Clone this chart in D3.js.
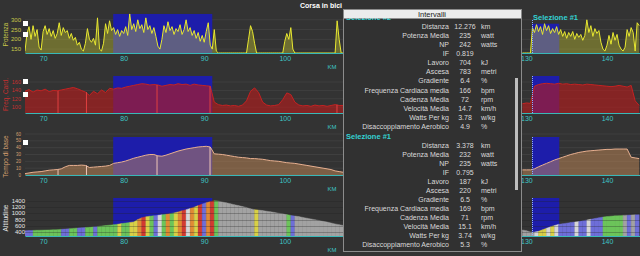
<!DOCTYPE html>
<html>
<head>
<meta charset="utf-8">
<style>
  body { margin:0; background:#333; overflow:hidden; }
  text { font-family: "Liberation Sans", Arial, sans-serif; }
</style>
</head>
<body>
<script src="https://cdn.jsdelivr.net/npm/d3@7/dist/d3.min.js"></script>
<script>

// ---- DATA ----
// 110 and 120 sit under the intervals popup, so they are not drawn
const kmTicks = [70, 80, 90, 100, 130, 140];

// power (watt), sampled every 0.25 km
const powerLeftStart = 67.75, powerRightStart = 129.5, powerStep = 0.25;
const powerLeft = [
  140,230,265,200,270,215,250,160,145,240,
  270,225,255,215,245,205,230,285,220,260,
  235,245,205,230,195,210,170,185,150,140,
  180,255,200,185,205,170,310,150,140,180,
  280,230,295,245,260,225,250,215,245,230,
  265,220,330,250,280,240,300,255,275,235,
  310,250,270,230,260,215,165,150,200,270,
  235,290,245,265,225,255,240,275,225,250,
  300,240,260,220,245,205,235,190,220,185,
  240,285,170,150,250,140,
  0,0,0,0,0,0,0,0,0,0,0,0,0,0,0,
  200,270,240,180,
  0,0,0,0,0,0,0,0,0,0,0,0,0,0,
  190,230,200,260,150,
  0,0,0,0,0,0,0,0,0,0,0,0,0,0,0,0,0,0,0,0,0,
  295,200,0,0
];
const powerRight = [
  0,0,0,0,0,260,235,275,240,265,
  225,280,245,270,230,255,235,265,225,250,
  215,240,205,235,215,240,200,230,210,225,
  195,220,300,235,270,215,255,230,245,185,
  150,140,170,220,175,235,195,225,170,150,
  140,160,250,215,260,235,140,285,270
];

// heart rate, tempo di base, altitude, gradient: every 0.5 km
const slowLeftStart = 67.75, slowRightStart = 129.5, slowStep = 0.5;
const hrLeft = [
  138,142,136,141,139,143,137,140,139,141,
  143,145,147,144,140,136,128,138,132,141,
  135,145,143,146,145,148,150,152,154,156,
  155,153,154,153,150,152,154,153,156,154,
  155,152,155,153,152,151,150,112,106,104,
  105,103,104,102,105,115,138,146,135,112,
  105,103,104,106,118,134,130,112,105,103,
  104,102,105,103,104,102,104,106,104,104
];
const hrRight = [
  108,110,109,150,154,156,157,156,155,157,
  155,156,154,155,154,153,155,154,153,152,
  151,150,149,150,152,150,148,152,115,104
];
const tempoLeft = [
  2,3,4,4.5,5,6,7,7.5,8,9,
  12,14,14,14,14.5,14,11,11.5,12,12.5,
  13,14,17,18,19,20.5,22.5,24.5,26,27.5,
  29,30,30,28,27.5,29,31,33,35,36.5,
  38,39,40,41,41.5,42,41,31,30.5,30,
  29,28,27,26,25.5,25,24,24,23.5,23,
  22,21,20.5,20,19,18,17.5,17,16,15,
  14,13,12,11,10,9,8,6,5,4
];
const tempoRight = [
  7.5,7.5,7.5,9,12,14.5,17,19.5,22,24,
  26,28,30,31.5,33,34,35,35.5,36,36.5,
  37,37.5,37.5,38,38,38,38,26,25,24
];
const altLeft = [
  440,445,450,455,458,462,466,470,475,485,
  495,505,515,525,535,545,555,565,575,590,
  605,620,635,650,670,690,705,725,800,860,
  890,910,925,940,955,970,990,1015,1045,1085,
  1120,1160,1200,1250,1300,1345,1380,1405,1395,1370,
  1340,1310,1280,1250,1220,1190,1150,1120,1105,1090,
  1070,1050,1030,1005,985,960,935,915,895,870,
  845,820,795,770,745,720,690,660,635,610
];
const altRight = [
  465,440,400,395,420,470,520,570,610,645,
  665,685,705,720,735,760,785,810,835,860,
  880,895,910,920,926,935,940,948,952,958
];
const gradLeft = [
  2,2,4,4,4,4,4,4,4,2,
  2,4,4,2,2,4,4,2,4,4,
  4,4,4,5,4,4,6,6,8,10,
  6,4,2,0,4,8,4,6,8,10,
  0,8,6,10,2,8,10,4,-2,-2,
  -2,-2,-2,-2,-2,-2,-2,6,-2,-2,
  -2,-2,-2,-2,-2,4,2,-2,-2,-2,
  -2,-2,-2,-2,-2,-2,-2,-2,-2,-2
];
const gradRight = [
  -2,-2,-2,0,6,6,0,6,0,2,
  2,2,2,0,2,2,0,2,2,2,
  4,4,4,4,4,-2,2,-2,2,-2
];

// recording dropouts (km)
const hrDrops = [71.85, 75.38, 84.14, 90.72, 106.48];
const tempoDrops = [71.85, 75.38, 84.14, 90.72];

// selections (km)
const selections = [[78.7, 91.0], [130.7, 134.08]];
const selectionName = "Selezione #1";

// y ticks
const powerTicks = [150, 200, 250, 300];
const hrTicks = [100, 120, 140, 160];
const tempoTicks = [0, 10, 20, 30, 40, 50, 60];
const altTicks = [400, 600, 800, 1000, 1200, 1400];

// interval popup
const statLabels = ["Distanza","Potenza Media","NP","IF","Lavoro","Ascesa","Gradiente",
  "Frequenza Cardiaca media","Cadenza Media","Velocità Media","Watts Per kg","Disaccoppiamento Aerobico"];
const statUnits = ["km","watt","watts","","kJ","metri","%","bpm","rpm","km/h","w/kg","%"];
const statsAll = ["12.276","235","242","0.819","704","783","6.4","166","72","14.7","3.78","4.9"];
const statsSel1 = ["3.378","232","235","0.795","187","220","6.5","169","71","15.1","3.74","5.3"];

// ---- HELPERS ----
function series(start, step, vals) {
  return vals.map((v, i) => ({ km: start + i * step, v: v }));
}

const W = 640, H = 256;
const svg = d3.select("body").append("svg").attr("width", W).attr("height", H);
svg.append("rect").attr("width", W).attr("height", H).attr("fill", "#333");

const x = d3.scaleLinear().domain([67.75, 144.1]).range([25, 640]);

svg.append("text").attr("x", 321).attr("y", 8).attr("text-anchor", "middle")
  .attr("font-size", 7).attr("font-weight", "bold").attr("fill", "#fff").text("Corsa in bici");

const panels = [
  { id: "power", top: 12, bottom: 53, domain: [130, 340], ticks: powerTicks, title: "Potenza",
    labelColor: "#c8c84a", tickFont: 6, line: "#e8e830", fill: "#e8e830", fillOp: 0.32,
    data: [series(powerLeftStart, powerStep, powerLeft), series(powerRightStart, powerStep, powerRight)],
    squares: [21, 32] },
  { id: "hr", top: 72, bottom: 113, domain: [86, 184], ticks: hrTicks, title: "Freq. Card.",
    labelColor: "#c83030", tickFont: 5.5, line: "#c42222", fill: "#b81c1c", fillOp: 0.62, selTop: 76,
    data: [series(slowLeftStart, slowStep, hrLeft), series(slowRightStart, slowStep, hrRight)],
    drops: hrDrops, dropColor: "#e04040", squares: [79, 92] },
  { id: "tempo", top: 134, bottom: 175, domain: [0, 60], ticks: tempoTicks, title: "Tempo di base",
    labelColor: "#d8a070", tickFont: 4.5, line: "#e8b090", fill: "#c48a58", fillOp: 0.5, selTop: 137,
    data: [series(slowLeftStart, slowStep, tempoLeft), series(slowRightStart, slowStep, tempoRight)],
    drops: tempoDrops, dropColor: "#f0c8b8", squares: [140] },
  { id: "alt", top: 196, bottom: 236, domain: [270, 1560], ticks: altTicks, title: "Altitudine",
    labelColor: "#e8e8e8", tickFont: 6, selTop: 198,
    data: [series(slowLeftStart, slowStep, altLeft), series(slowRightStart, slowStep, altRight)],
    grads: [gradLeft, gradRight], squares: [] }
];

const gradColor = d3.scaleThreshold()
  .domain([-0.5, 0.5, 3, 5, 7, 9])
  .range(["#a2a2a2", "#d6d6d6", "#6e6ed8", "#6cc45a", "#d8d046", "#e08a34", "#d23a30"]);

panels.forEach(p => {
  const y = d3.scaleLinear().domain(p.domain).range([p.bottom, p.top]).clamp(true);
  const g = svg.append("g");

  svg.append("clipPath").attr("id", "clip-" + p.id)
    .append("rect").attr("x", 25).attr("y", p.top - 4).attr("width", 615).attr("height", p.bottom - p.top + 4);
  const plot = g.append("g").attr("clip-path", "url(#clip-" + p.id + ")");

  // grid behind
  if (p.id !== "alt") {
    plot.selectAll("line.grid").data(p.ticks).enter().append("line")
      .attr("x1", 25).attr("x2", 640).attr("y1", d => y(d)).attr("y2", d => y(d))
      .attr("stroke", "#3f3f3f").attr("stroke-width", 1);
  }

  // selections
  selections.forEach((s, si) => {
    let top = p.selTop;
    if (p.id === "power") {
      const pts = p.data[si].filter(d => d.km >= s[0] && d.km <= s[1]);
      top = y(d3.max(pts, d => d.v));
    }
    plot.append("rect").attr("x", x(s[0])).attr("y", top)
      .attr("width", x(s[1]) - x(s[0])).attr("height", p.bottom - top)
      .attr("fill", "#1d1daa");
  });

  if (p.id === "alt") {
    p.data.forEach((pts, k) => {
      const grads = p.grads[k];
      for (let i = 0; i < pts.length - 1; i++) {
        const seg = [pts[i], pts[i + 1]];
        plot.append("path").datum(seg)
          .attr("d", d3.area().x(d => x(d.km)).y0(p.bottom).y1(d => y(d.v)))
          .attr("fill", gradColor(grads[i])).attr("stroke", gradColor(grads[i])).attr("stroke-width", 0.4);
      }
    });
    // grid over the profile
    plot.selectAll("line.grid").data(p.ticks).enter().append("line")
      .attr("x1", 25).attr("x2", 640).attr("y1", d => Math.round(y(d)) + 0.5).attr("y2", d => Math.round(y(d)) + 0.5)
      .attr("stroke", "#222").attr("stroke-opacity", 0.3);
  } else {
    const area = d3.area().x(d => x(d.km)).y0(p.bottom).y1(d => y(d.v));
    const line = d3.line().x(d => x(d.km)).y(d => y(d.v));
    p.data.forEach(pts => {
      plot.append("path").datum(pts).attr("d", area)
        .attr("fill", p.fill).attr("fill-opacity", p.fillOp);
      plot.append("path").datum(pts).attr("d", line)
        .attr("fill", "none").attr("stroke", p.line).attr("stroke-width", 1);
    });
    if (p.drops) {
      plot.selectAll("line.drop").data(p.drops).enter().append("line")
        .attr("x1", d => x(d)).attr("x2", d => x(d))
        .attr("y1", d => {
          const pts = p.data[0];
          const j = Math.min(pts.length - 1, Math.round((d - pts[0].km) / slowStep));
          return y(pts[j].v);
        })
        .attr("y2", p.bottom).attr("stroke", p.dropColor).attr("stroke-width", 1);
    }
  }

  // dotted marker at start of named selection
  const sx = Math.round(x(selections[1][0])) + 0.5;
  plot.append("line").attr("x1", sx).attr("x2", sx)
    .attr("y1", p.id === "power" ? 20 : p.selTop).attr("y2", p.bottom)
    .attr("stroke", "#8fb0ff").attr("stroke-dasharray", "1,1");

  // x axis
  const ax = g.append("g").attr("transform", "translate(0," + p.bottom + ")")
    .call(d3.axisBottom(x).tickValues(kmTicks).tickSize(0).tickPadding(3));
  ax.select(".domain").attr("stroke", "#38b8b8").attr("stroke-width", 1.2);
  ax.selectAll("text").attr("fill", "#3ec6c6").attr("font-size", 7)
    .attr("font-family", "Liberation Sans, Arial, sans-serif");
  g.append("text").attr("x", 332).attr("y", p.bottom + 16).attr("text-anchor", "middle")
    .attr("font-size", 6).attr("fill", "#3ec6c6").text("KM");

  // y labels
  const lx = p.id === "alt" ? 25 : 21;
  g.selectAll("text.ytick").data(p.ticks).enter().append("text")
    .attr("x", lx).attr("y", d => y(d)).attr("dy", "0.35em").attr("text-anchor", "end")
    .attr("font-size", p.tickFont).attr("fill", p.labelColor).text(d => d);
  g.append("text")
    .attr("transform", "translate(8," + ((p.top + p.bottom) / 2 + 2) + ") rotate(-90)")
    .attr("text-anchor", "middle").attr("font-size", 6.5).attr("fill", p.labelColor).text(p.title);

  g.selectAll("rect.sq").data(p.squares).enter().append("rect")
    .attr("x", 23).attr("y", d => d).attr("width", 5).attr("height", 5).attr("fill", "#fff");
});

// selection label on the chart
svg.append("text").attr("x", 533).attr("y", 20).attr("font-size", 7.5).attr("font-weight", "bold")
  .attr("fill", "#34d2d2").text(selectionName);

// ---- INTERVAL POPUP ----
const pop = svg.append("g");
pop.append("rect").attr("x", 343.5).attr("y", 9.5).attr("width", 178).attr("height", 242)
  .attr("fill", "#313131").attr("stroke", "#8c8c8c");
// header of the block scrolled under the title bar
pop.append("text").attr("x", 346).attr("y", 20.3).attr("font-size", 7.5).attr("font-weight", "bold")
  .attr("fill", "#34d2d2").text("Selezione #2");
pop.append("rect").attr("x", 344).attr("y", 10).attr("width", 177).attr("height", 8.5).attr("fill", "#ececec");
pop.append("text").attr("x", 432).attr("y", 16.8).attr("text-anchor", "middle")
  .attr("font-size", 7.5).attr("fill", "#1a1a1a").text("Intervalli");
pop.append("rect").attr("x", 515).attr("y", 78).attr("width", 3).attr("height", 112).attr("fill", "#bdbdbd");

function statBlock(values, y0, gap) {
  statLabels.forEach((lab, i) => {
    const yy = y0 + i * gap;
    pop.append("text").attr("x", 449).attr("y", yy).attr("text-anchor", "end")
      .attr("font-size", 7).attr("fill", "#dadada").text(lab);
    pop.append("text").attr("x", 465).attr("y", yy).attr("text-anchor", "middle")
      .attr("font-size", 7).attr("fill", "#dadada").text(values[i]);
    pop.append("text").attr("x", 481).attr("y", yy)
      .attr("font-size", 7).attr("fill", "#dadada").text(statUnits[i]);
  });
}
statBlock(statsAll, 28.8, 9.1);
pop.append("text").attr("x", 346).attr("y", 138.5).attr("font-size", 7.5).attr("font-weight", "bold")
  .attr("fill", "#34d2d2").text(selectionName);
statBlock(statsSel1, 147.8, 9.03);

</script>
</body>
</html>
